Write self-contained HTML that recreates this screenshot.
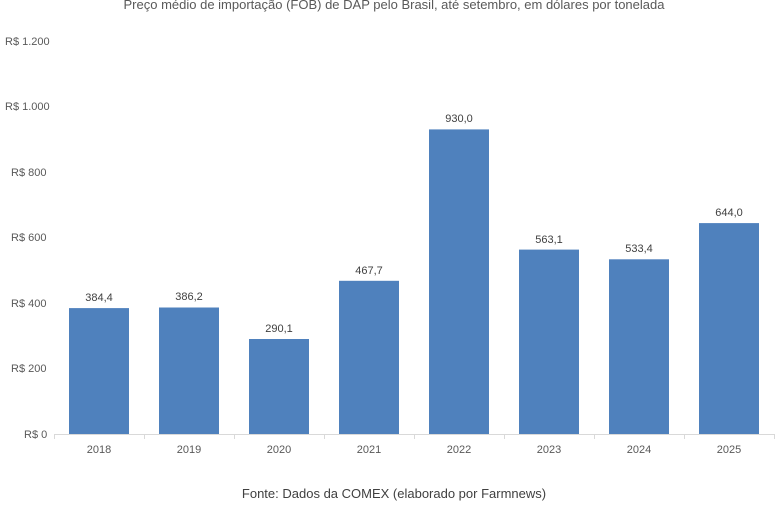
<!DOCTYPE html>
<html><head><meta charset="utf-8"><style>
body{margin:0;background:#fff;}
svg{display:block;font-family:"Liberation Sans",sans-serif;}
</style></head><body>
<svg width="780" height="505" viewBox="0 0 780 505">
<rect width="780" height="505" fill="#fff"/>
<text x="394" y="9" font-size="13" fill="#595959" text-anchor="middle">Preço médio de importação (FOB) de DAP pelo Brasil, até setembro, em dólares por tonelada</text>
<g font-size="11" fill="#595959" text-anchor="start">
<text x="5" y="45">R$ 1.200</text>
<text x="5" y="110">R$ 1.000</text>
<text x="11" y="176">R$ 800</text>
<text x="11" y="241">R$ 600</text>
<text x="11" y="307">R$ 400</text>
<text x="11" y="372">R$ 200</text>
<text x="24" y="438">R$ 0</text>
</g>
<g fill="#4f81bd">
<rect x="69" y="308.1" width="60" height="125.9"/>
<rect x="159" y="307.5" width="60" height="126.5"/>
<rect x="249" y="339" width="60" height="95"/>
<rect x="339" y="280.8" width="60" height="153.2"/>
<rect x="429" y="129.4" width="60" height="304.6"/>
<rect x="519" y="249.6" width="60" height="184.4"/>
<rect x="609" y="259.3" width="60" height="174.7"/>
<rect x="699" y="223.1" width="60" height="210.9"/>
</g>
<g stroke="#d9d9d9" stroke-width="1">
<line x1="54" y1="434.5" x2="775" y2="434.5"/>
<line x1="54.5" y1="434" x2="54.5" y2="439"/><line x1="144.5" y1="434" x2="144.5" y2="439"/><line x1="234.5" y1="434" x2="234.5" y2="439"/><line x1="324.5" y1="434" x2="324.5" y2="439"/><line x1="414.5" y1="434" x2="414.5" y2="439"/><line x1="504.5" y1="434" x2="504.5" y2="439"/><line x1="594.5" y1="434" x2="594.5" y2="439"/><line x1="684.5" y1="434" x2="684.5" y2="439"/><line x1="774.5" y1="434" x2="774.5" y2="439"/>
</g>
<g font-size="11" fill="#404040" text-anchor="middle">
<text x="99" y="301">384,4</text><text x="189" y="300">386,2</text><text x="279" y="332">290,1</text><text x="369" y="274">467,7</text><text x="459" y="122">930,0</text><text x="549" y="243">563,1</text><text x="639" y="252">533,4</text><text x="729" y="216">644,0</text>
</g>
<g font-size="11" fill="#595959" text-anchor="middle">
<text x="99" y="453">2018</text><text x="189" y="453">2019</text><text x="279" y="453">2020</text><text x="369" y="453">2021</text><text x="459" y="453">2022</text><text x="549" y="453">2023</text><text x="639" y="453">2024</text><text x="729" y="453">2025</text>
</g>
<text x="394" y="498" font-size="13" fill="#404040" text-anchor="middle">Fonte: Dados da COMEX (elaborado por Farmnews)</text>
</svg>
</body></html>
